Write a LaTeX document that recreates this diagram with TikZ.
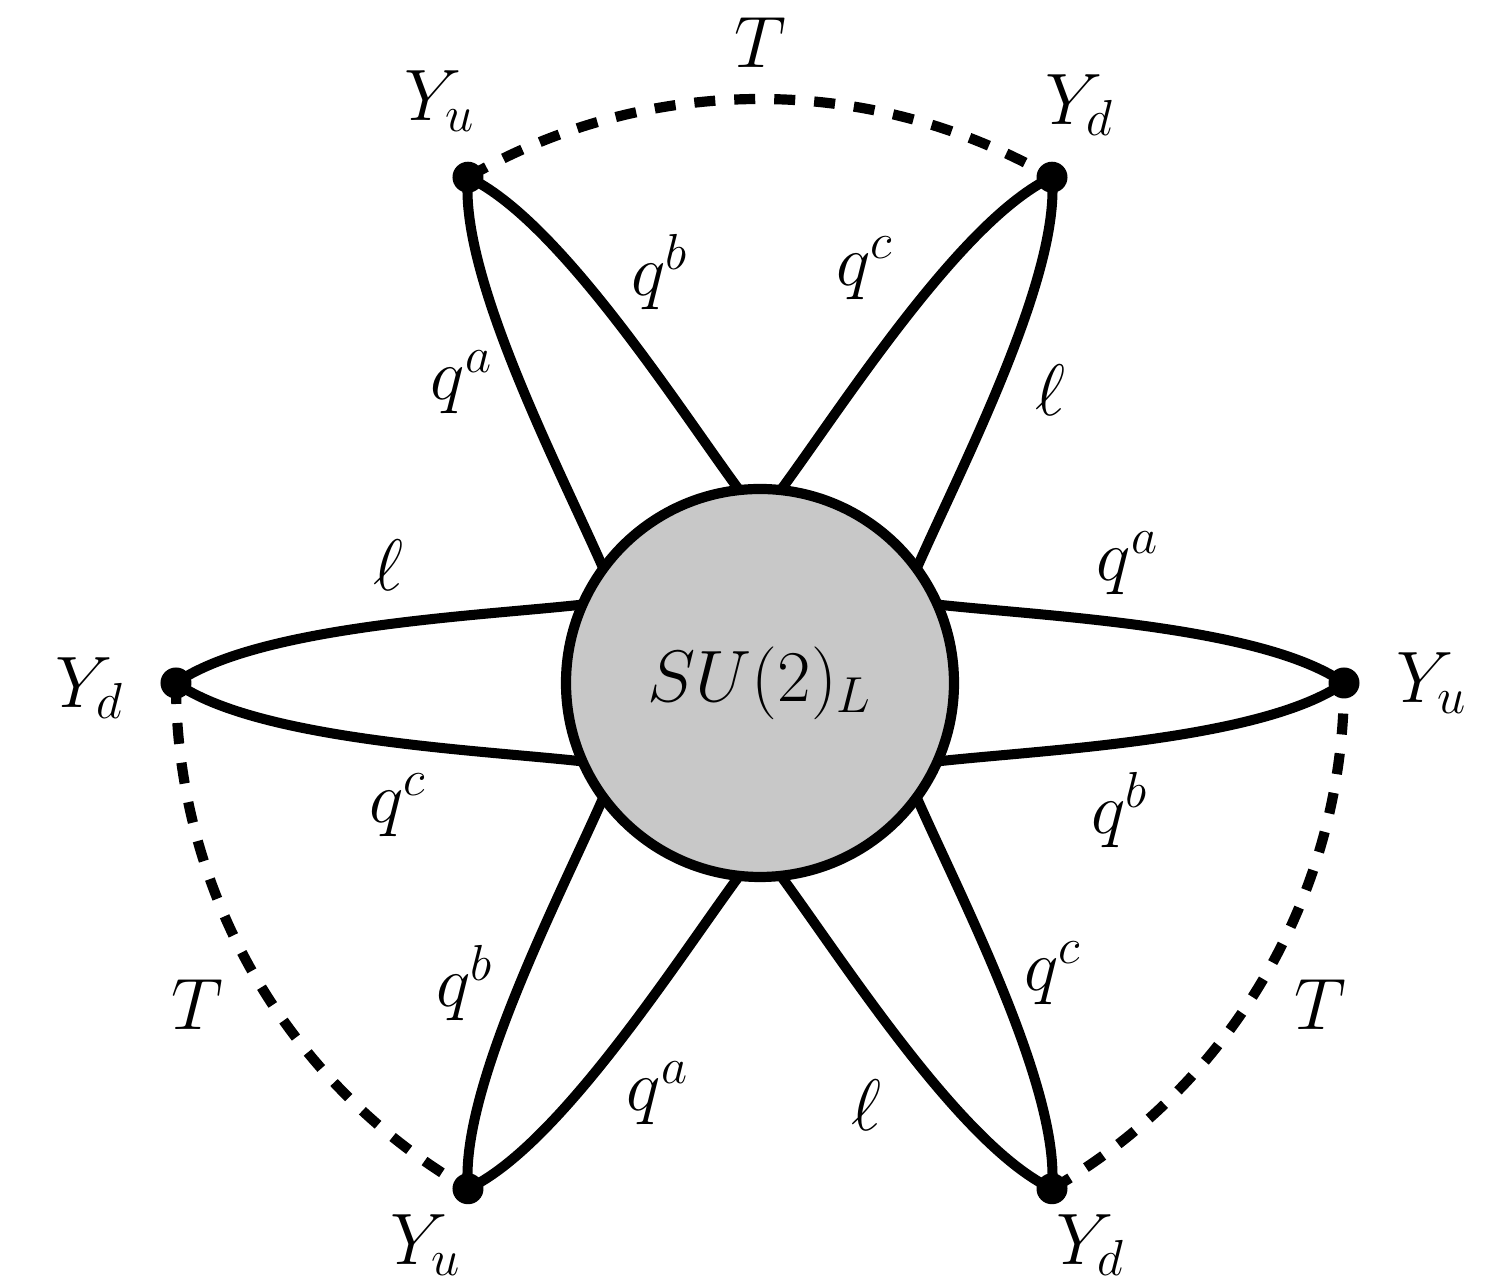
\documentclass[tikz,border=0pt]{standalone}
\definecolor{blobgray}{RGB}{200,200,200}
\begin{document}
\begin{tikzpicture}[
  lobe/.style={line width=2.85pt, shorten <=-1.5pt},
  prop/.style={line width=2.9pt, dash pattern=on 0.21cm off 0.19cm},
  vtx/.style={circle, fill=black, inner sep=0pt, minimum size=0.31cm},
  lbl/.style={font=\fontsize{21}{25}\selectfont, inner sep=0pt},
  blob/.style={circle, draw, line width=2.9pt, fill=blobgray, minimum size=3.88cm, inner sep=0pt, font=\fontsize{21}{25}\selectfont}
]
\useasboundingbox (-7.60,-6.00) rectangle (7.41,6.83);
\foreach \n/\a in {R/0, TR/60, TL/120, L/180, BL/240, BR/300} {
  \coordinate (\n) at (\a:5.84);
}
\node[blob] (S) at (0,0) {$SU(2)_L$};
% lobes
\foreach \n/\a [evaluate=\a as \ap using \a+23,
               evaluate=\a as \am using \a-23,
               evaluate=\a as \tp using \a-6.3,
               evaluate=\a as \tm using \a+6.3,
               evaluate=\a as \cp using \a+145,
               evaluate=\a as \cm using \a-145] in {R/0, TR/60, TL/120, L/180, BL/240, BR/300} {
  \draw[lobe] (S.\ap) .. controls +(\tp:1.0) and +(\cp:1.0) .. (\n);
  \draw[lobe] (S.\am) .. controls +(\tm:1.0) and +(\cm:1.0) .. (\n);
}
% dashed propagators
\draw[prop] (TL) arc[start angle=120, end angle=60, radius=5.84];
\draw[prop] (L) arc[start angle=180, end angle=240, radius=5.84];
\draw[prop] (BR) arc[start angle=300, end angle=360, radius=5.84];
% vertices
\foreach \n in {R, TR, TL, L, BL, BR} {
  \node[vtx] (d\n) at (\n) {};
}
% vertex labels
\node[lbl] (yTL) at (-3.20, 5.82) {$Y_u$};
\node[lbl] (yTR) at (3.20, 5.78) {$Y_d$};
\node[lbl] (yL)  at (-6.70, -0.05) {$Y_d$};
\node[lbl] (yR)  at (6.72, 0.0) {$Y_u$};
\node[lbl] (yBL) at (-3.34, -5.62) {$Y_u$};
\node[lbl] (yBR) at (3.31, -5.62) {$Y_d$};
% T labels
\node[lbl] (tT) at (0, 6.40) {$T$};
\node[lbl] (tL) at (-5.63, -3.22) {$T$};
\node[lbl] (tR) at (5.60, -3.22) {$T$};
% lobe labels
\node[lbl] (l1) at (-1.00, 4.11) {$q^b$};
\node[lbl] (l2) at (-2.98, 3.01) {$q^a$};
\node[lbl] (l3) at (1.05, 4.15) {$q^c$};
\node[lbl] (l4) at (2.90, 2.93) {$\ell$};
\node[lbl] (l5) at (-3.72, 1.18) {$\ell$};
\node[lbl] (l6) at (3.68, 1.20) {$q^a$};
\node[lbl] (l7) at (-3.62, -1.22) {$q^c$};
\node[lbl] (l8) at (3.60, -1.27) {$q^b$};
\node[lbl] (l9) at (-2.95, -3.00) {$q^b$};
\node[lbl] (l10) at (2.93, -2.90) {$q^c$};
\node[lbl] (l11) at (-1.02, -4.10) {$q^a$};
\node[lbl] (l12) at (1.06, -4.22) {$\ell$};
\end{tikzpicture}
\end{document}
